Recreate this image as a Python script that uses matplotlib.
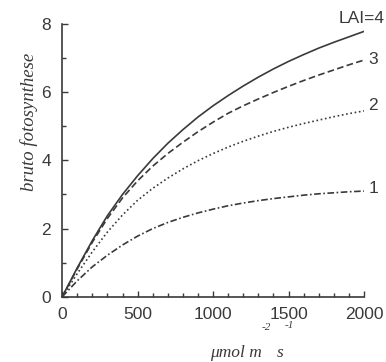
import matplotlib.pyplot as plt
from matplotlib.ticker import MultipleLocator

# light intensity (umol m-2 s-1)
par = [0, 100, 200, 300, 400, 500, 600, 700, 800, 900, 1000,
       1100, 1200, 1300, 1400, 1500, 1600, 1700, 1800, 1900, 2000]

# gross photosynthesis per LAI
lai4 = [0, 0.85, 1.65, 2.38, 3.0, 3.55, 4.05, 4.5, 4.9, 5.27, 5.6,
        5.9, 6.18, 6.44, 6.68, 6.9, 7.1, 7.29, 7.46, 7.62, 7.78]
lai3 = [0, 0.82, 1.6, 2.3, 2.9, 3.4, 3.83, 4.2, 4.53, 4.84, 5.12,
        5.38, 5.6, 5.8, 5.99, 6.17, 6.34, 6.5, 6.65, 6.8, 6.94]
lai2 = [0, 0.68, 1.32, 1.9, 2.4, 2.83, 3.18, 3.48, 3.75, 3.99, 4.2,
        4.39, 4.56, 4.71, 4.85, 4.97, 5.08, 5.18, 5.28, 5.37, 5.45]
lai1 = [0, 0.47, 0.88, 1.22, 1.52, 1.78, 2.0, 2.18, 2.33, 2.46, 2.57,
        2.67, 2.75, 2.82, 2.88, 2.93, 2.98, 3.02, 3.05, 3.08, 3.1]

labels = ['LAI=4', '3', '2', '1']

ink = '#3a3a3a'
plt.rcParams['font.family'] = ['Liberation Sans', 'DejaVu Sans']
plt.rcParams['xtick.direction'] = 'in'
plt.rcParams['ytick.direction'] = 'in'

fig = plt.figure(figsize=(3.86, 3.62), dpi=100)
ax = fig.add_axes([0.161, 0.18, 0.782, 0.754])

ax.plot(par, lai4, color=ink, lw=1.2, ls='-')
ax.plot(par, lai3, color=ink, lw=1.2, ls=(0, (4, 2)))
ax.plot(par, lai2, color=ink, lw=1.2, ls=(0, (1, 1.6)))
ax.plot(par, lai1, color=ink, lw=1.2, ls=(0, (4, 1.5, 1, 1.5)))

ax.text(1830, 8.15, labels[0], color=ink, fontsize=12.5, ha='left', va='center', clip_on=False)
for lab, yv in zip(labels[1:], [6.95, 5.6, 3.18]):
  ax.text(2030, yv, lab, color=ink, fontsize=12.5, ha='left', va='center', clip_on=False)

ax.set_xlim(0, 2000)
ax.set_ylim(0, 8)
ax.xaxis.set_major_locator(MultipleLocator(500))
ax.xaxis.set_minor_locator(MultipleLocator(100))
ax.yaxis.set_major_locator(MultipleLocator(2))
ax.yaxis.set_minor_locator(MultipleLocator(1))
ax.tick_params(which='major', direction='in', length=4, width=1, color=ink,
               labelcolor=ink, labelsize=12.5)
ax.tick_params(which='minor', direction='in', length=3, width=1, color=ink)
ax.tick_params(axis='x', which='major', pad=7)
ax.tick_params(axis='y', which='major', pad=8)
for s in ['top', 'right']:
  ax.spines[s].set_visible(False)
for s in ['left', 'bottom']:
  ax.spines[s].set_color(ink)
  ax.spines[s].set_linewidth(1.2)

ax.set_ylabel('bruto fotosynthese', family='Liberation Serif', style='italic',
              fontsize=13.5, color=ink)
ax.yaxis.set_label_coords(-0.08, 0.64)

# x label pieces with raised exponents, as in the original
serif = dict(family='Liberation Serif', style='italic', color=ink)
fig.text(210 / 386, 1 - 357 / 362, '\u03bcmol m', fontsize=12.5, ha='left', va='baseline', **serif)
fig.text(262 / 386, 1 - 328 / 362, '-2', fontsize=8, ha='left', va='center', **serif)
fig.text(277 / 386, 1 - 357 / 362, 's', fontsize=12.5, ha='left', va='baseline', **serif)
fig.text(285 / 386, 1 - 326 / 362, '-1', fontsize=8, ha='left', va='center', **serif)

fig.savefig('out.png', dpi=100)
